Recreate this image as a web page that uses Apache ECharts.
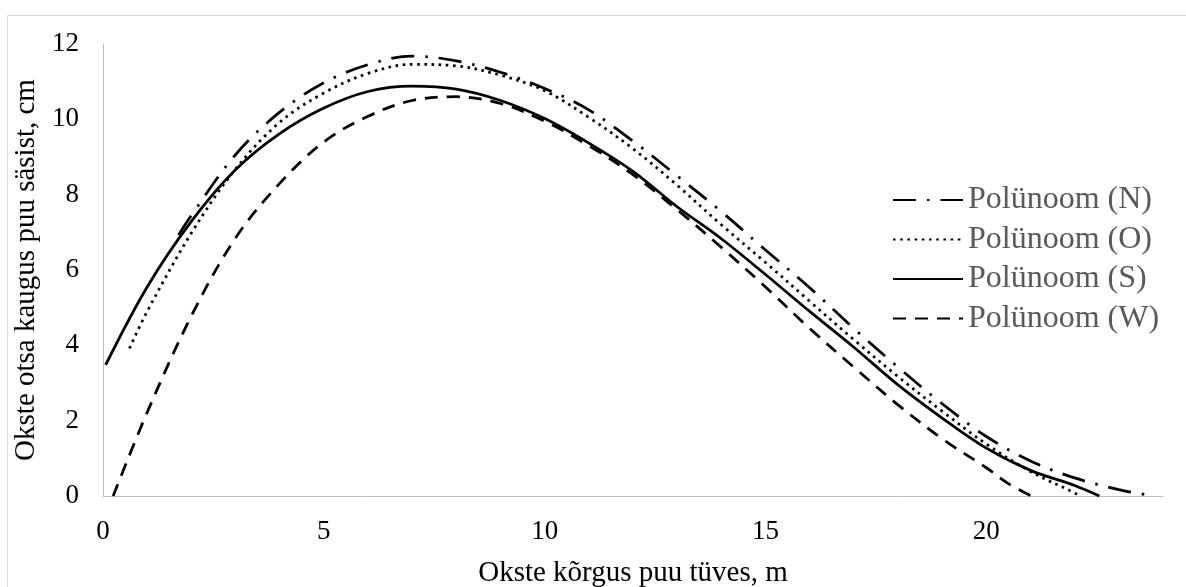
<!DOCTYPE html>
<html>
<head>
<meta charset="utf-8">
<script src="https://cdn.jsdelivr.net/npm/echarts@6/dist/echarts.min.js"></script>
<style>
html,body{margin:0;padding:0;background:#ffffff;}
#chart{width:1186px;height:587px;}
</style>
</head>
<body>
<div id="chart"></div>
<script>
// ---- data ----
const seriesNames = ['Polünoom (N)', 'Polünoom (O)', 'Polünoom (S)', 'Polünoom (W)'];

const nX = [1.71, 2, 3, 4, 5, 6, 7, 8, 9, 10, 11, 12, 13, 14, 15, 16, 17, 18, 19, 20, 21, 22, 23, 23.8];
const nY = [6.93, 7.45, 9.06, 10.19, 10.97, 11.45, 11.68, 11.55, 11.25, 10.82, 10.25, 9.42, 8.5, 7.55, 6.53, 5.53, 4.45, 3.42, 2.45, 1.58, 0.93, 0.48, 0.17, 0];

const oX = [0.6, 1, 2, 3, 4, 5, 6, 7, 8, 9, 10, 11, 12, 13, 14, 15, 16, 17, 18, 19, 20, 21, 22, 22.1];
const oY = [3.92, 4.9, 6.98, 8.68, 9.92, 10.7, 11.22, 11.46, 11.42, 11.17, 10.76, 10.05, 9.22, 8.25, 7.2, 6.2, 5.17, 4.15, 3.17, 2.25, 1.38, 0.65, 0.08, 0];

const sX = [0.06, 1, 2, 3, 4, 5, 6, 7, 8, 9, 10, 11, 12, 13, 14, 15, 16, 17, 18, 19, 20, 21, 22, 22.56];
const sY = [3.48, 5.55, 7.29, 8.66, 9.62, 10.3, 10.74, 10.88, 10.8, 10.5, 10.02, 9.37, 8.62, 7.68, 6.83, 5.88, 4.9, 3.95, 2.95, 2.07, 1.27, 0.68, 0.28, 0];

const wX = [0.23, 1, 2, 3, 4, 5, 6, 7, 8, 9, 10, 11, 12, 13, 14, 15, 16, 17, 18, 19, 20, 20.5, 21.02];
const wY = [0, 2.22, 4.78, 6.85, 8.3, 9.4, 10.08, 10.5, 10.6, 10.42, 9.95, 9.3, 8.53, 7.6, 6.6, 5.55, 4.45, 3.42, 2.42, 1.52, 0.75, 0.33, 0];

const xAxisTitle = 'Okste kõrgus puu tüves, m';
const yAxisTitle = 'Okste otsa kaugus puu säsist, cm';

// ---- build ----
function pairs(xs, ys) { return xs.map((x, i) => [x, ys[i]]); }

const FONT = 'Liberation Serif';
const dashStyles = [
  [23, 11, 2.5, 11],   // N: long dash - dot
  [2.6, 4.6],          // O: round dots
  'solid',             // S
  [13, 9]              // W: dashes
];
const dataSets = [pairs(nX, nY), pairs(oX, oY), pairs(sX, sY), pairs(wX, wY)];

const chart = echarts.init(document.getElementById('chart'), null, { renderer: 'canvas' });

chart.setOption({
  backgroundColor: '#ffffff',
  animation: false,
  graphic: [{
    type: 'rect',
    shape: { x: 7.5, y: 15.5, width: 1200, height: 600 },
    style: { fill: 'none', stroke: '#d9d9d9', lineWidth: 1 },
    silent: true
  }],
  grid: { left: 103, right: 23, top: 44, bottom: 91, containLabel: false, outerBoundsMode: 'none' },
  legend: {
    orient: 'vertical',
    left: 892,
    top: 184,
    padding: 0,
    itemWidth: 70,
    itemHeight: 20,
    itemGap: 7.5,
    data: seriesNames,
    itemStyle: { color: 'rgba(0,0,0,0)', borderColor: 'rgba(0,0,0,0)', borderWidth: 0, opacity: 0 },
    textStyle: { color: '#595959', fontFamily: FONT, fontSize: 32, lineHeight: 32 }
  },
  xAxis: {
    type: 'value',
    min: 0,
    max: 24,
    interval: 5,
    axisLine: { show: true, lineStyle: { color: '#bfbfbf', width: 1 } },
    axisTick: { show: false },
    splitLine: { show: false },
    axisLabel: { color: '#000000', fontFamily: FONT, fontSize: 27, margin: 22, showMaxLabel: false },
    name: xAxisTitle,
    nameLocation: 'middle',
    nameGap: 63,
    nameTextStyle: { color: '#000000', fontFamily: FONT, fontSize: 29 }
  },
  yAxis: {
    type: 'value',
    min: 0,
    max: 12,
    interval: 2,
    axisLine: { show: true, lineStyle: { color: '#bfbfbf', width: 1 } },
    axisTick: { show: false },
    splitLine: { show: false },
    axisLabel: { color: '#000000', fontFamily: FONT, fontSize: 27, margin: 24 },
    name: yAxisTitle,
    nameLocation: 'middle',
    nameGap: 51,
    nameTextStyle: { color: '#000000', fontFamily: FONT, fontSize: 29 }
  },
  series: seriesNames.map((name, i) => ({
    name: name,
    type: 'line',
    data: dataSets[i],
    smooth: 0.35,
    symbol: 'none',
    showSymbol: false,
    color: '#000000',
    lineStyle: { color: '#000000', width: 2.75, type: dashStyles[i] }
  }))
});
</script>
</body>
</html>
